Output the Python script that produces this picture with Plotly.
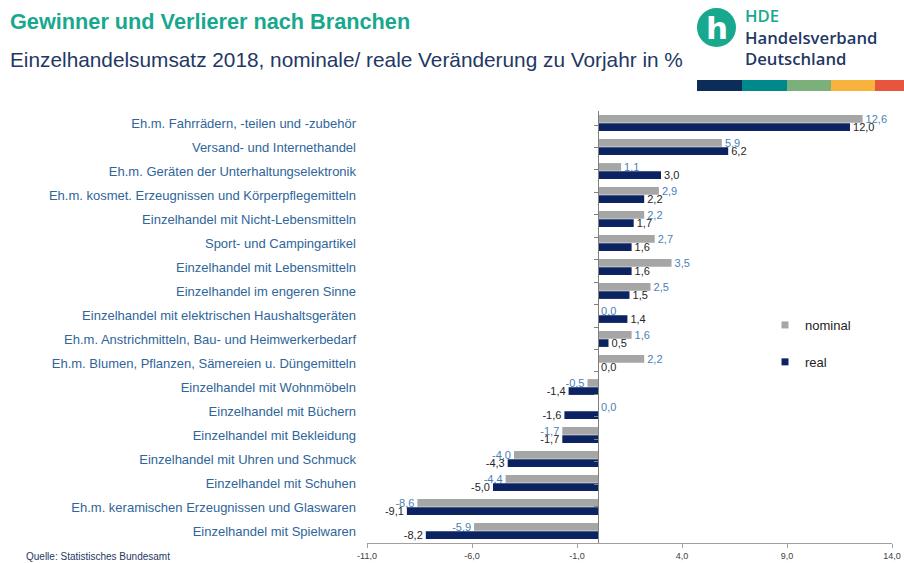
import plotly.graph_objects as go

categories = [
    "Eh.m. Fahrrädern, -teilen und -zubehör",
    "Versand- und Internethandel",
    "Eh.m. Geräten der Unterhaltungselektronik",
    "Eh.m. kosmet. Erzeugnissen und Körperpflegemitteln",
    "Einzelhandel mit Nicht-Lebensmitteln",
    "Sport- und Campingartikel",
    "Einzelhandel mit Lebensmitteln",
    "Einzelhandel im engeren Sinne",
    "Einzelhandel mit elektrischen Haushaltsgeräten",
    "Eh.m. Anstrichmitteln, Bau- und Heimwerkerbedarf",
    "Eh.m. Blumen, Pflanzen, Sämereien u. Düngemitteln",
    "Einzelhandel mit Wohnmöbeln",
    "Einzelhandel mit Büchern",
    "Einzelhandel mit Bekleidung",
    "Einzelhandel mit Uhren und Schmuck",
    "Einzelhandel mit Schuhen",
    "Eh.m. keramischen Erzeugnissen und Glaswaren",
    "Einzelhandel mit Spielwaren",
]
nominal = [12.6, 5.9, 1.1, 2.9, 2.2, 2.7, 3.5, 2.5, 0.0, 1.6, 2.2, -0.5, 0.0, -1.7, -4.0, -4.4, -8.6, -5.9]
real = [12.0, 6.2, 3.0, 2.2, 1.7, 1.6, 1.6, 1.5, 1.4, 0.5, 0.0, -1.4, -1.6, -1.7, -4.3, -5.0, -9.1, -8.2]
tick_vals = [-11, -6, -1, 4, 9, 14]
tick_text = ["-11,0", "-6,0", "-1,0", "4,0", "9,0", "14,0"]

W, H = 904, 563
ML, MR, MT, MB = 367, 12, 111, 20
PW, PH = W - ML - MR, H - MT - MB


def px_x(x):
    return (x - ML) / PW


def px_y(y):
    return (H - MB - y) / PH


def fmt(v):
    return f"{v:.1f}".replace(".", ",")


GRAY = "#a6a6a6"
NAVY = "#0b2461"
TEAL = "#17a88e"
DARKBLUE = "#1f3864"

fig = go.Figure()
fig.add_trace(go.Bar(
    y=categories, x=nominal, orientation="h", name="nominal",
    marker=dict(color=GRAY, line=dict(width=0)),
    text=[fmt(v) for v in nominal], textposition="outside", constraintext="none",
    textfont=dict(family="Liberation Sans", size=11, color="#4a7fb5"),
    cliponaxis=False, showlegend=False, hoverinfo="skip",
))
fig.add_trace(go.Bar(
    y=categories, x=real, orientation="h", name="real",
    marker=dict(color=NAVY, line=dict(width=0)),
    text=[fmt(v) for v in real], textposition="outside", constraintext="none",
    textfont=dict(family="Liberation Sans", size=11, color="#262626"),
    cliponaxis=False, showlegend=False, hoverinfo="skip",
))
# legend entries
fig.add_trace(go.Scatter(x=[None], y=[None], mode="markers", name="nominal",
                         marker=dict(symbol="square", size=7, color=GRAY),
                         legendgroup="a"))
fig.add_trace(go.Scatter(x=[None], y=[None], mode="markers", name="real",
                         marker=dict(symbol="square", size=7, color=NAVY),
                         legendgroup="b"))
# helper trace for the axis line at zero
fig.add_trace(go.Scatter(y=categories, x=[0] * len(categories), yaxis="y2",
                         mode="markers", marker=dict(opacity=0), showlegend=False,
                         hoverinfo="skip"))

fig.update_layout(
    template="none",
    width=W, height=H, autosize=False,
    margin=dict(l=ML, r=MR, t=MT, b=MB, pad=0, autoexpand=False),
    paper_bgcolor="white", plot_bgcolor="white",
    separators=",.",
    barmode="group", bargap=0.32, bargroupgap=0.06,
    font=dict(family="Liberation Sans", size=12, color="#333"),
    xaxis=dict(range=[-11, 14], tickvals=tick_vals, ticktext=tick_text,
               automargin=False,
               showgrid=False, zeroline=False, showline=True, linecolor="#a0a0a0",
               ticks="outside", ticklen=4, tickcolor="#a0a0a0",
               tickfont=dict(size=9, color="#404040")),
    yaxis=dict(type="category", autorange="reversed", showgrid=False,
               automargin=False,
               showline=False, ticks="", ticklabelstandoff=10,
               tickfont=dict(size=13, color="#2f659a")),
    yaxis2=dict(type="category", overlaying="y", anchor="free",
                position=11 / 25, autorange="reversed", showgrid=False,
                automargin=False,
                showline=True, linecolor="#808080", ticks="outside", ticklen=4,
                tickcolor="#808080", tickson="boundaries", showticklabels=False),
    legend=dict(x=px_x(765), y=px_y(310), xanchor="left", yanchor="top",
                tracegroupgap=17, font=dict(size=13, color="#222"),
                bgcolor="rgba(0,0,0,0)", borderwidth=0),
)

ann = [
    dict(text="<b>Gewinner und Verlierer nach Branchen</b>", x=px_x(9), y=px_y(21),
         font=dict(family="Liberation Sans", size=21.7, color=TEAL)),
    dict(text="Einzelhandelsumsatz 2018, nominale/ reale Veränderung zu Vorjahr in %",
         x=px_x(9), y=px_y(60), font=dict(family="Liberation Sans", size=20.8, color=DARKBLUE)),
    dict(text="Quelle: Statistisches Bundesamt", x=px_x(25), y=px_y(556),
         font=dict(family="Liberation Sans", size=10, color=DARKBLUE)),
    dict(text=f"<span style='color:{TEAL}'>HDE</span><br>Handelsverband<br>Deutschland",
         x=px_x(744), y=px_y(37), align="left",
         font=dict(family="Open Sans", size=16.7, color=DARKBLUE, weight=600)),
    dict(text="<b>h</b>", x=px_x(716.5), y=px_y(28), xanchor="center",
         font=dict(family="DejaVu Sans", size=31, color="white")),
]
for a in ann:
    a.setdefault("xanchor", "left")
    fig.add_annotation(xref="paper", yref="paper", yanchor="middle",
                       showarrow=False, borderpad=0, **a)

fig.add_shape(type="circle", xref="paper", yref="paper",
              x0=px_x(697), x1=px_x(736), y0=px_y(8), y1=px_y(47),
              fillcolor=TEAL, line=dict(width=0), layer="below")
strip = [(697, 742, "#0c2d5a"), (742, 787, "#00898a"), (787, 831, "#7bb07a"),
         (831, 875, "#f7b33b"), (875, 904, "#e8553e")]
for x0, x1, c in strip:
    fig.add_shape(type="rect", xref="paper", yref="paper",
                  x0=px_x(x0), x1=px_x(x1), y0=px_y(80), y1=px_y(91),
                  fillcolor=c, line=dict(width=0))

post = (
    "document.documentElement.style.margin='0';"
    "document.body.style.margin='0';"
    "document.body.style.overflow='hidden';"
)
fig.write_html("out.html", config={"displayModeBar": False}, post_script=post)
